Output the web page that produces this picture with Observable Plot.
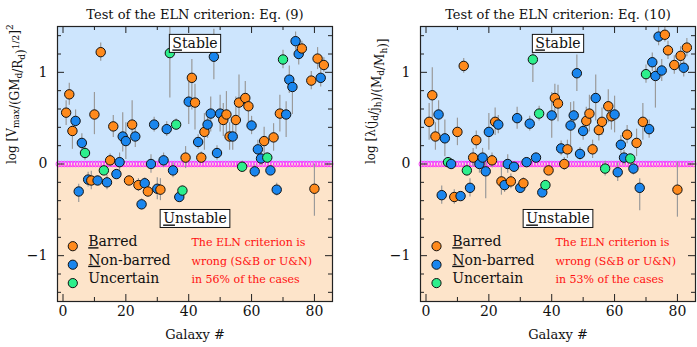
<!DOCTYPE html>
<html><head><meta charset="utf-8">
<script src="https://cdn.jsdelivr.net/npm/d3@7"></script>
<script src="https://cdn.jsdelivr.net/npm/@observablehq/plot@0.6"></script>
<style>
body{margin:0;background:#fff;}
#wrap{display:flex;width:697px;height:347px;}
</style></head><body><div id="wrap"></div>
<script>
// ---- data ----
const galaxy = [1,2,3,4,5,6,7,8,9,10,11,12,13,14,15,16,17,18,19,20,21,22,23,24,25,26,27,28,29,30,31,32,33,34,35,36,37,38,39,40,41,42,43,44,45,46,47,48,49,50,51,52,53,54,55,56,57,58,59,60,61,62,63,64,65,66,67,68,69,70,71,72,73,74,75,76,77,79,80,81,82,83];
// B = barred, N = non-barred, U = uncertain
const klass = ["B","B","B","N","N","N","U","N","B","B","N","B","U","N","B","B","N","N","N","N","B","B","N","B","N","N","B","N","N","N","B","N","N","U","N","U","N","U","B","N","B","B","N","B","B","N","N","N","N","N","B","B","B","N","B","B","U","B","B","N","N","N","N","B","U","N","B","N","B","U","N","N","N","N","N","B","B","B","B","B","N","B"];
const eq9 = [0.56,0.76,0.36,0.47,-0.30,0.23,0.12,-0.17,-0.18,0.54,-0.18,1.22,-0.07,-0.20,0.04,0.41,-0.11,0.02,0.30,0.25,-0.18,0.43,0.30,-0.23,-0.44,-0.21,-0.30,0.00,0.43,-0.27,-0.28,0.04,0.38,1.21,-0.07,0.43,-0.36,-0.29,0.07,0.68,0.94,0.67,0.24,0.07,0.35,0.43,0.55,1.17,0.12,0.55,0.48,0.54,0.30,0.30,0.48,0.67,-0.03,0.72,0.63,0.42,-0.08,0.16,0.06,0.25,0.07,-0.07,0.29,-0.28,0.55,1.14,0.54,0.92,0.84,1.34,1.20,1.26,null,0.91,-0.27,1.15,0.94,1.08];
const eq9lo = [0.14,0.12,0.2,0.12,0.12,0.1,0.08,0.08,0.1,0.22,0.05,0.1,0.05,0.08,0.07,0.12,0.05,0.1,0.17,0.2,0.05,0.13,0.12,0.07,0.06,0.06,0.06,0.1,0.08,0.12,0.12,0.08,0.08,0.49,0.08,0.06,0.05,0.05,0.12,0.25,0.35,0.3,0.08,0.06,0.2,0.15,0.2,0.25,0.08,0.2,0.18,0.25,0.15,0.15,0.2,0.15,0.06,0.1,0.2,0.1,0.07,0.1,0.08,0.15,0.05,0.05,0.15,0.07,0.2,0.1,0.25,0.15,0.3,0.1,0.12,0.08,null,0.1,0.3,0.12,0.1,0.08];
const eq9hi = [0.13,0.12,0.1,0.12,0.08,0.1,0.08,0.08,0.1,0.24,0.05,0.1,0.05,0.08,0.07,0.12,0.05,0.1,0.26,0.2,0.05,0.26,0.12,0.07,0.06,0.06,0.06,0.1,0.08,0.12,0.12,0.08,0.08,0.3,0.08,0.06,0.05,0.05,0.12,0.3,0.2,0.2,0.08,0.06,0.2,0.15,0.18,0.3,0.08,0.2,0.18,0.25,0.15,0.15,0.25,0.3,0.06,0.18,0.1,0.1,0.07,0.1,0.08,0.15,0.05,0.05,0.15,0.07,0.2,0.1,0.14,0.15,0.1,0.1,0.12,0.08,null,0.1,0.27,0.12,0.1,0.08];
const eq10 = [0.46,0.75,0.30,0.54,-0.34,0.28,0.02,0.00,-0.36,0.35,-0.35,1.07,-0.07,-0.26,0.07,0.26,0.00,0.07,-0.08,0.35,0.04,0.46,0.43,-0.19,-0.23,0.00,-0.19,-0.03,0.50,-0.26,-0.21,0.02,0.44,1.14,0.07,0.55,-0.31,-0.23,-0.07,0.53,0.72,0.66,0.17,0.00,0.16,0.42,0.53,0.99,0.11,0.36,0.47,0.55,0.16,0.72,0.37,0.46,-0.05,0.63,0.52,0.54,-0.09,0.21,0.07,0.32,0.06,-0.05,0.23,-0.26,0.46,0.98,0.38,1.11,0.96,1.39,1.02,1.41,1.24,1.08,-0.28,1.18,1.05,1.27];
const eq10lo = [0.2,0.3,0.15,0.25,0.1,0.2,0.05,0.06,0.08,0.15,0.05,0.08,0.06,0.1,0.1,0.1,0.1,0.1,0.3,0.2,0.08,0.15,0.1,0.15,0.08,0.1,0.08,0.05,0.12,0.06,0.06,0.05,0.08,0.25,0.05,0.08,0.05,0.05,0.05,0.25,0.2,0.2,0.08,0.07,0.1,0.25,0.15,0.2,0.07,0.1,0.15,0.2,0.1,0.25,0.12,0.15,0.08,0.18,0.15,0.2,0.1,0.1,0.08,0.1,0.05,0.07,0.15,0.25,0.2,0.1,0.1,0.1,0.35,0.1,0.12,0.08,0.1,0.1,0.3,0.1,0.1,0.1];
const eq10hi = [0.2,0.3,0.15,0.15,0.1,0.2,0.05,0.06,0.08,0.15,0.05,0.08,0.06,0.1,0.1,0.1,0.1,0.1,0.1,0.2,0.08,0.15,0.1,0.15,0.08,0.1,0.08,0.05,0.12,0.06,0.06,0.05,0.08,0.1,0.05,0.08,0.05,0.05,0.05,0.25,0.15,0.2,0.08,0.07,0.1,0.25,0.15,0.2,0.07,0.1,0.15,0.2,0.1,0.25,0.12,0.15,0.08,0.18,0.15,0.2,0.1,0.1,0.08,0.1,0.05,0.07,0.15,0.1,0.2,0.1,0.1,0.1,0.15,0.1,0.12,0.08,0.1,0.1,0.3,0.1,0.1,0.1];

const xDomain = [-1.75, 85.75];
const yDomain = [-1.5, 1.5];
const xTicks = [0,20,40,60,80];
const xMinor = [10,30,50,70];
const yTicks = [-1,0,1];
const yMinor = [-1.4,-1.2,-0.8,-0.6,-0.4,-0.2,0.2,0.4,0.6,0.8,1.2,1.4];
const legendKeys = ["B","N","U"];
const legendNames = ["Barred","Non-barred","Uncertain"];
const stateNames = ["Stable","Unstable"];
const stateX = [42, 42];
const stateY = [1.31, -0.60];
const titles = ["Test of the ELN criterion: Eq. (9)", "Test of the ELN criterion: Eq. (10)"];
const wrongPct = ["56%", "53%"];

// ---- style ----
const COLORS = {B: "#ff8a1c", N: "#1a86ee", U: "#2def8c"};
const FONT = "DejaVu Serif, serif";
const H = 347, MT = 26, MB = 46;
const fmt = d => d < 0 ? "\u2212" + Math.abs(d) : String(d);

function panel({values, lo, hi, title, pct, width, marginLeft, marginRight, ylabel, ylabelDx, legDx}) {
  const rows = galaxy.map((g, i) => ({g, k: klass[i], v: values[i], lo: lo[i], hi: hi[i]})).filter(d => d.v != null);
  const PH = H - MT - MB;
  const PW = width - marginLeft - marginRight;
  const legDy = [-55.3, -36.8, -18.4];
  const legendMarks = legendKeys.flatMap((k, i) => [
    Plot.dot([k], {frameAnchor: "bottom-left", dx: legDx[0], dy: legDy[i], r: 4.6, fill: COLORS[k], stroke: "#111", strokeWidth: 1}),
    Plot.text([legendNames[i]], {frameAnchor: "bottom-left", dx: legDx[1], dy: legDy[i], textAnchor: "start", fontSize: 14, fill: "#111"}),
    Plot.text([["The ELN criterion is", "wrong (S&B or U&N)", "in " + pct + " of the cases"][i]], {frameAnchor: "bottom-left", dx: legDx[2], dy: legDy[i], textAnchor: "start", fontSize: 11, fill: "#ff1010"})
  ]);
  const svg = Plot.plot({
    width, height: H, marginTop: MT, marginBottom: MB, marginLeft, marginRight,
    x: {domain: xDomain, axis: null},
    y: {domain: yDomain, axis: null},
    style: {fontFamily: FONT, fontSize: "13px", background: "white", color: "#111"},
    marks: [
      Plot.rect([0], {x1: xDomain[0], x2: xDomain[1], y1: 0, y2: yDomain[1], fill: "#cde5fd"}),
      Plot.rect([0], {x1: xDomain[0], x2: xDomain[1], y1: yDomain[0], y2: 0, fill: "#fde4ca"}),
      Plot.dot(d3.range(xDomain[0] + 0.4, xDomain[1], 0.9), {x: d => d, y: 0, r: 2.8, stroke: "#ff22ff", strokeWidth: 0.8, fill: "none"}),
      Plot.ruleX(rows, {x: "g", y1: d => d.v - d.lo, y2: d => d.v + d.hi, stroke: "#9a9a9a", strokeWidth: 1.2, clip: true}),
      Plot.dot(rows, {x: "g", y: "v", r: 4.7, fill: d => COLORS[d.k], stroke: "#111", strokeWidth: 1}),
      Plot.frame({stroke: "#222", strokeWidth: 1.2}),
      Plot.tickX(xTicks, {x: d => d, insetTop: PH - 7, stroke: "#222"}),
      Plot.tickX(xTicks, {x: d => d, insetBottom: PH - 7, stroke: "#222"}),
      Plot.tickX(xMinor, {x: d => d, insetTop: PH - 4, stroke: "#222"}),
      Plot.tickX(xMinor, {x: d => d, insetBottom: PH - 4, stroke: "#222"}),
      Plot.tickY(yTicks, {y: d => d, insetRight: PW - 7, stroke: "#222"}),
      Plot.tickY(yTicks, {y: d => d, insetLeft: PW - 7, stroke: "#222"}),
      Plot.tickY(yMinor, {y: d => d, insetRight: PW - 4, stroke: "#222"}),
      Plot.tickY(yMinor, {y: d => d, insetLeft: PW - 4, stroke: "#222"}),
      Plot.axisX(xTicks, {tickSize: 0, tickPadding: 5, fontSize: 14, label: null, tickFormat: fmt}),
      Plot.axisY(yTicks, {tickSize: 0, tickPadding: 10, fontSize: 14, label: null, tickFormat: fmt}),
      Plot.text(["Galaxy #"], {frameAnchor: "bottom", dy: 37, fontSize: 13}),
      Plot.text([title], {frameAnchor: "top", dy: -17, fontSize: 13}),
      Plot.text(["YLABEL"], {frameAnchor: "left", dx: ylabelDx, rotate: -90, fontSize: 12}),
      Plot.text(stateNames, {x: (d, i) => stateX[i], y: (d, i) => stateY[i], fontSize: 14, fill: "#111"}),
      ...legendMarks
    ]
  });
  svg.dataset.ylabel = ylabel;
  return svg;
}

const sub = s => `<tspan dy="3" font-size="9">${s}</tspan><tspan dy="-3"></tspan>`;
const sup = s => `<tspan dy="-6" font-size="9">${s}</tspan><tspan dy="6"></tspan>`;
const ylab9 = `log [V${sub("max")}/(GM${sub("d")}/R${sub("d")})${sup("1/2")}]${sup("2")}`;
const ylab10 = `log [λ(j${sub("d")}/j${sub("h")})/(M${sub("d")}/M${sub("h")})]`;

const wrap = document.getElementById("wrap");
const p1 = panel({values: eq9, lo: eq9lo, hi: eq9hi, title: titles[0], pct: wrongPct[0], width: 348, marginLeft: 57, marginRight: 16, ylabel: ylab9, ylabelDx: -45, legDx: [15.3, 30.7, 134]});
const p2 = panel({values: eq10, lo: eq10lo, hi: eq10hi, title: titles[1], pct: wrongPct[1], width: 349, marginLeft: 72, marginRight: 2, ylabel: ylab10, ylabelDx: -49, legDx: [16, 31.7, 135]});
wrap.append(p1, p2);

const underlined = new Set(["Stable", "Unstable", "Barred", "Non-barred"]);
for (const svg of [p1, p2]) {
  svg.querySelectorAll("text").forEach(t => {
    const s = t.textContent;
    if (s === "YLABEL") t.innerHTML = svg.dataset.ylabel;
    else if (underlined.has(s)) {
      t.innerHTML = `<tspan style="text-decoration:underline">${s[0]}</tspan>${s.slice(1)}`;
      if (s === "Stable" || s === "Unstable") {
        const b = t.getBBox();
        const r = document.createElementNS("http://www.w3.org/2000/svg", "rect");
        r.setAttribute("x", b.x - 3); r.setAttribute("y", b.y - 1);
        r.setAttribute("width", b.width + 6); r.setAttribute("height", b.height + 2);
        r.setAttribute("fill", "white"); r.setAttribute("stroke", "#111"); r.setAttribute("stroke-width", "1");
        if (t.getAttribute("transform")) r.setAttribute("transform", t.getAttribute("transform"));
        t.parentNode.insertBefore(r, t);
      }
    }
  });
}
</script></body></html>
